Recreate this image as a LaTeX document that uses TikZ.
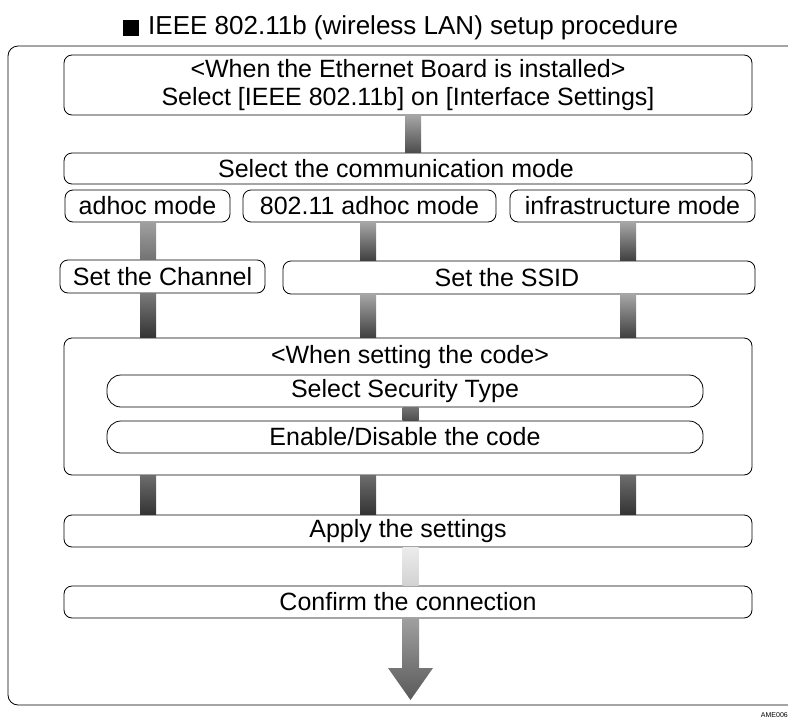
\documentclass[tikz,border=0pt]{standalone}
\usepackage{fontspec}
\setmainfont{Liberation Sans}
\usetikzlibrary{positioning,calc}

% shaded bar between two nodes along a column
\newcommand{\link}[5]{%
  \shade[top color=#4, bottom color=#5] ([xshift=-8pt]#1 |- #2) rectangle ([xshift=8pt]#1 |- #3);}

\begin{document}
\begin{tikzpicture}[x=1pt, y=1pt,
    box/.style={draw, rounded corners=8pt, line width=0.8pt, fill=white, inner sep=0pt,
      font=\fontsize{25}{28}\selectfont},
    wide/.style={box, minimum width=688pt, minimum height=32pt},
    txt/.style={inner sep=0pt, font=\fontsize{#1}{28}\selectfont}]
  \useasboundingbox (0,0) rectangle (788,-718);

  % heading and frame
  \node[txt=26, anchor=west] (title) at (148,-28)
    {IEEE 802.11b (wireless LAN) setup procedure};
  \node[fill=black, inner sep=0pt, minimum size=16pt, left=9pt of title] (bullet) {};
  \draw[rounded corners=10pt, line width=0.8pt] (8,-46) rectangle (830,-705);
  \node[anchor=south east, inner sep=0pt, font=\fontsize{7}{8}\selectfont] (tag) at (788,-717.5) {AME006};

  % steps
  \node[box, minimum width=688pt, minimum height=60pt, align=center] (board) at (408,-85)
    {<When the Ethernet Board is installed>\\Select [IEEE 802.11b] on [Interface Settings]};
  \node[wide, minimum height=31pt] (mode) at (408,-168.5) {};
  \node[txt=25] (modetext) at ([xshift=-12pt]mode.center) {Select the communication mode};
  \node[box, minimum width=165pt, minimum height=32pt] (adhoc) at (147.5,-206) {adhoc mode};
  \node[box, minimum width=253pt, minimum height=32pt] (adhoc11) at (369.5,-206) {802.11 adhoc mode};
  \node[box, minimum width=245pt, minimum height=32pt] (infra) at (632.5,-206) {infrastructure mode};
  \node[box, minimum width=205pt, minimum height=33pt] (channel) at (162.5,-276.5) {Set the Channel};
  \node[box, minimum width=472pt, minimum height=33pt] (ssid) at (519,-277.5) {};
  \node[txt=25] (ssidtext) at ([xshift=-12pt]ssid.center) {Set the SSID};
  \node[box, minimum width=688pt, minimum height=137pt] (code) at (408,-406.5) {};
  \node[txt=25] (codehead) at (410,-357) {<When setting the code>};
  \node[box, rounded corners=14pt, minimum width=596pt, minimum height=32pt] (sectype) at (405,-391) {Select Security Type};
  \node[box, rounded corners=14pt, minimum width=596pt, minimum height=32pt] (onoff) at (405,-437) {Enable/Disable the code};
  \node[wide] (apply) at (408,-531) {Apply the settings};
  \node[wide] (confirm) at (408,-602) {Confirm the connection};

  % columns of the connectors
  \coordinate (colM) at (413,0);
  \coordinate (colA) at (148,0);
  \coordinate (colB) at (368,0);
  \coordinate (colC) at (628,0);
  \coordinate (colS) at (410.5,0);
  \coordinate (headbase) at (410.5,-668);
  \coordinate (tip) at (410.5,-700);

  % connectors
  \link{colM}{board.south}{mode.north}{gray!70}{black!70}
  \link{colA}{adhoc.south}{channel.north}{gray!75}{gray!90!black}
  \link{colB}{adhoc11.south}{ssid.north}{gray!70}{black!75}
  \link{colC}{infra.south}{ssid.north}{gray!70}{black!75}
  \link{colA}{channel.south}{code.north}{gray!95!black}{black!80}
  \link{colB}{ssid.south}{code.north}{gray!70}{black!75}
  \link{colC}{ssid.south}{code.north}{gray!70}{black!75}
  \link{colS}{sectype.south}{onoff.north}{gray!90!black}{black!70}
  \link{colA}{code.south}{apply.north}{gray!85!black}{black!80}
  \link{colB}{code.south}{apply.north}{gray!85!black}{black!80}
  \link{colC}{code.south}{apply.north}{gray!85!black}{black!80}
  \link{colS}{apply.south}{confirm.north}{gray!15}{gray!35}
  \shade[top color=gray!75, bottom color=black!65]
    ([xshift=-8.5pt]colS |- confirm.south) -- ([xshift=-8.5pt]headbase) -- ([xshift=-22.5pt]headbase)
    -- (tip) -- ([xshift=22.5pt]headbase) -- ([xshift=8.5pt]headbase) -- ([xshift=8.5pt]colS |- confirm.south) -- cycle;
\end{tikzpicture}
\end{document}
